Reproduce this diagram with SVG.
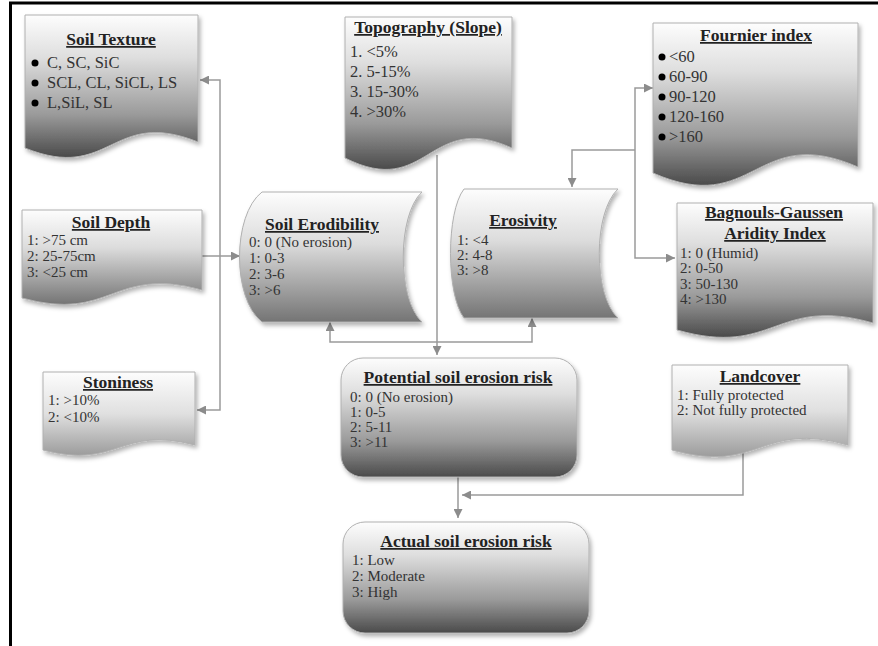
<svg xmlns="http://www.w3.org/2000/svg" width="878" height="646" viewBox="0 0 878 646">
<defs>
<linearGradient id="gDark" x1="0" y1="0" x2="0" y2="1">
<stop offset="0" stop-color="#fdfdfd"/><stop offset="0.3" stop-color="#dedede"/><stop offset="0.7" stop-color="#9a9a9a"/><stop offset="1" stop-color="#4a4a4a"/>
</linearGradient>
<linearGradient id="gMid" x1="0" y1="0" x2="0" y2="1">
<stop offset="0" stop-color="#fdfdfd"/><stop offset="0.4" stop-color="#dcdcdc"/><stop offset="1" stop-color="#747474"/>
</linearGradient>
<linearGradient id="gLight" x1="0" y1="0" x2="0" y2="1">
<stop offset="0" stop-color="#fdfdfd"/><stop offset="0.5" stop-color="#e0e0e0"/><stop offset="1" stop-color="#9c9c9c"/>
</linearGradient>
<filter id="sh" x="-10%" y="-10%" width="125%" height="130%">
<feDropShadow dx="2" dy="3" stdDeviation="2" flood-color="#000" flood-opacity="0.3"/>
</filter>
<marker id="ah" viewBox="0 0 10 10" refX="10" refY="5" markerWidth="9" markerHeight="9" orient="auto-start-reverse" markerUnits="userSpaceOnUse">
<path d="M0,0 L10,5 L0,10 z" fill="#8c8c8c"/>
</marker>
<style>
.shape{stroke:#b0b0b0;stroke-width:1;filter:url(#sh)}
.dark{fill:url(#gDark)}
.mid{fill:url(#gMid)}
.light{fill:url(#gLight)}
.t{font-family:"Liberation Serif","Times New Roman",serif;font-size:17.5px;font-weight:bold;fill:#222;text-anchor:middle;text-decoration:underline}
.i{font-family:"Liberation Serif","Times New Roman",serif;font-size:15px;fill:#333}
.ib{font-family:"Liberation Serif","Times New Roman",serif;font-size:16.5px;fill:#333}
.con{fill:none;stroke:#9a9a9a;stroke-width:1.5}
</style>
</defs>
<rect x="0" y="0" width="878" height="646" fill="#fff"/>
<path d="M10.5,646 V3 H878" fill="none" stroke="#000" stroke-width="3"/>

<g id="connectors">
<path class="con" d="M200,80 H220 V410 H197" marker-start="url(#ah)" marker-end="url(#ah)"/>
<path class="con" d="M202,256 H240" marker-end="url(#ah)"/>
<path class="con" d="M330,322 V342 H532 V318" marker-start="url(#ah)" marker-end="url(#ah)"/>
<path class="con" d="M437,155 V355" marker-end="url(#ah)"/>
<path class="con" d="M653,88 H635 V258 H675" marker-start="url(#ah)" marker-end="url(#ah)"/>
<path class="con" d="M635,150 H572 V187" marker-end="url(#ah)"/>
<path class="con" d="M458,477 V518" marker-end="url(#ah)"/>
<path class="con" d="M743,448 V495 H462" marker-end="url(#ah)"/>
</g>

<g id="soil-texture">
<path class="shape dark" d="M25,15 H198 V142 C111,107 111,183 25,148 Z"/>
<text class="t" x="111" y="45">Soil Texture</text>
<circle cx="35" cy="63" r="3.5" fill="#000"/>
<circle cx="35" cy="83" r="3.5" fill="#000"/>
<circle cx="35" cy="103" r="3.5" fill="#000"/>
<text class="ib" x="47" y="68">C, SC, SiC</text>
<text class="ib" x="47" y="88">SCL, CL, SiCL, LS</text>
<text class="ib" x="47" y="108">L,SiL, SL</text>
</g>

<g id="soil-depth">
<path class="shape mid" d="M22,210 H202 V290 C112,265 112,323 22,298 Z"/>
<text class="t" x="111" y="228">Soil Depth</text>
<text class="i" x="27" y="245">1: &gt;75 cm</text>
<text class="i" x="27" y="261">2: 25-75cm</text>
<text class="i" x="27" y="277">3: &lt;25 cm</text>
</g>

<g id="stoniness">
<path class="shape light" d="M43,372 H195 V445 C119,425 119,470 43,450 Z"/>
<text class="t" x="118" y="388">Stoniness</text>
<text class="i" x="48" y="405">1: &gt;10%</text>
<text class="i" x="48" y="422">2: &lt;10%</text>
</g>

<g id="topography">
<path class="shape dark" d="M345,17 H512 V148 C428,110 428,200 345,158 Z"/>
<text class="t" x="428" y="33">Topography (Slope)</text>
<text class="ib" x="350" y="57">1. &lt;5%</text>
<text class="ib" x="350" y="77">2. 5-15%</text>
<text class="ib" x="350" y="97">3. 15-30%</text>
<text class="ib" x="350" y="117">4. &gt;30%</text>
</g>

<g id="fournier-index">
<path class="shape dark" d="M653,23 H858 V167 C755,122 755,218 653,173 Z"/>
<text class="t" x="756" y="41">Fournier index</text>
<circle cx="662" cy="57" r="3.5" fill="#000"/>
<circle cx="662" cy="77" r="3.5" fill="#000"/>
<circle cx="662" cy="97" r="3.5" fill="#000"/>
<circle cx="662" cy="117" r="3.5" fill="#000"/>
<circle cx="662" cy="137" r="3.5" fill="#000"/>
<text class="ib" x="669" y="62">&lt;60</text>
<text class="ib" x="669" y="82">60-90</text>
<text class="ib" x="669" y="102">90-120</text>
<text class="ib" x="669" y="122">120-160</text>
<text class="ib" x="669" y="142">&gt;160</text>
</g>

<g id="soil-erodibility">
<path class="shape mid" d="M262,192 H422 C397,215 397,299 422,322 H262 C232,299 232,215 262,192 Z"/>
<text class="t" x="322" y="230">Soil Erodibility</text>
<text class="i" x="249" y="247">0: 0 (No erosion)</text>
<text class="i" x="249" y="263">1: 0-3</text>
<text class="i" x="249" y="279">2: 3-6</text>
<text class="i" x="249" y="295">3: &gt;6</text>
</g>

<g id="erosivity">
<path class="shape mid" d="M464,189 H618 C593,212 593,295 618,318 H464 C446,295 446,212 464,189 Z"/>
<text class="t" x="523" y="226">Erosivity</text>
<text class="i" x="457" y="245">1: &lt;4</text>
<text class="i" x="457" y="260">2: 4-8</text>
<text class="i" x="457" y="275">3: &gt;8</text>
</g>

<g id="bagnouls-gaussen">
<path class="shape dark" d="M677,203 H873 V323 C775,295 775,358 677,330 Z"/>
<text class="t" x="774" y="218">Bagnouls-Gaussen </text>
<text class="t" x="775" y="239">Aridity Index</text>
<text class="i" x="680" y="258">1: 0 (Humid)</text>
<text class="i" x="680" y="273">2: 0-50</text>
<text class="i" x="680" y="289">3: 50-130</text>
<text class="i" x="680" y="304">4: &gt;130</text>
</g>

<g id="landcover">
<path class="shape light" d="M672,365 H848 V445 C760,420 760,475 672,450 Z"/>
<text class="t" x="760" y="382">Landcover</text>
<text class="i" x="677" y="400">1: Fully protected</text>
<text class="i" x="677" y="415"> 2: Not fully protected</text>
</g>

<g id="potential-soil-erosion-risk">
<rect class="shape dark" x="341" y="358" width="236" height="119" rx="22"/>
<text class="t" x="458" y="383">Potential soil erosion risk</text>
<text class="i" x="350" y="402">0: 0 (No erosion)</text>
<text class="i" x="350" y="417">1: 0-5</text>
<text class="i" x="350" y="432">2: 5-11</text>
<text class="i" x="350" y="447">3: &gt;11</text>
</g>

<g id="actual-soil-erosion-risk">
<rect class="shape dark" x="343" y="522" width="246" height="111" rx="22"/>
<text class="t" x="466" y="547">Actual soil erosion risk</text>
<text class="i" x="352" y="565">1: Low</text>
<text class="i" x="352" y="581">2: Moderate</text>
<text class="i" x="352" y="597">3: High</text>
</g>
</svg>
